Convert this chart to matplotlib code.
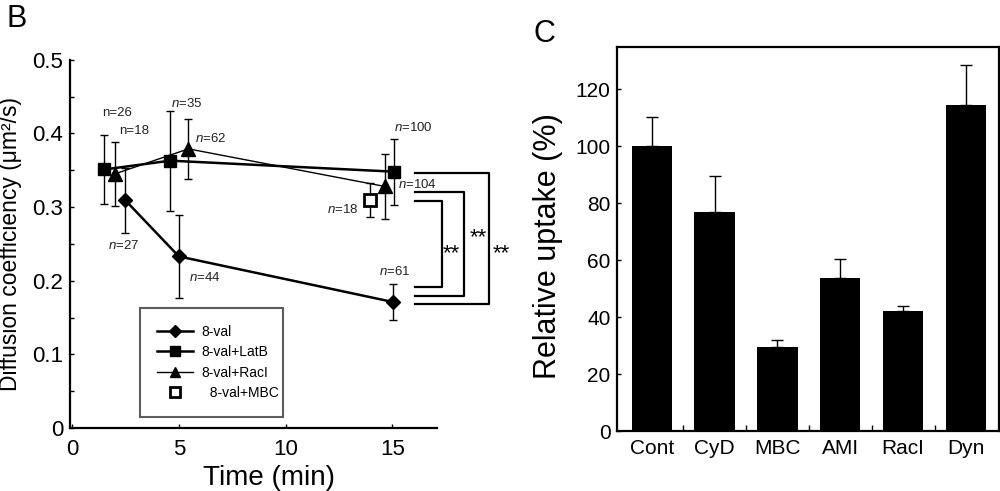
import numpy as np
import matplotlib.pyplot as plt

plt.rcParams['font.family'] = ['Liberation Sans', 'DejaVu Sans']
plt.rcParams['mathtext.fontset'] = 'custom'
plt.rcParams['mathtext.it'] = 'Liberation Sans:italic'
plt.rcParams['mathtext.rm'] = 'Liberation Sans'

# Panel B data: time (min), diffusion coefficient, error
val_t = [2.5, 5.0, 15.05]
val_d = [0.309, 0.233, 0.171]
val_err = [0.044, 0.056, 0.024]

latb_t = [1.5, 4.6, 15.1]
latb_d = [0.351, 0.363, 0.348]
latb_err = [0.047, 0.068, 0.045]

racl_t = [2.0, 5.45, 14.65]
racl_d = [0.345, 0.379, 0.328]
racl_err = [0.044, 0.041, 0.044]

mbc_t = [13.95]
mbc_d = [0.31]
mbc_err = [0.023]

# n labels: text, x, y
n_labels = [
    ("n=26", 2.1, 0.428),
    ("n=18", 2.9, 0.403),
    ("$n$=35", 5.35, 0.441),
    ("$n$=62", 6.5, 0.393),
    ("$n$=27", 2.4, 0.248),
    ("$n$=44", 6.2, 0.204),
    ("$n$=18", 12.7, 0.297),
    ("$n$=100", 16.0, 0.408),
    ("$n$=104", 16.2, 0.330),
    ("$n$=61", 15.1, 0.213),
]

# significance brackets: top y, bottom y, vertical x, star x, star y
brackets = [
    (0.308, 0.191, 17.32, 17.75, 0.247),
    (0.321, 0.179, 18.36, 19.05, 0.268),
    (0.346, 0.168, 19.53, 20.1, 0.247),
]
bracket_start = 16.07

# Panel C data
groups = ["Cont", "CyD", "MBC", "AMI", "RacI", "Dyn"]
uptake = [100, 76.8, 29.6, 53.6, 42.3, 114.5]
uptake_err = [10.3, 12.7, 2.3, 6.7, 1.6, 14.0]

fig = plt.figure(figsize=(10, 4.91), dpi=100)

# ---- Panel B ----
ax = fig.add_axes([0.07, 0.1283, 0.367, 0.75])
eb = dict(fmt='none', ecolor='black', elinewidth=1, capsize=3, capthick=1)
ax.errorbar(val_t, val_d, yerr=val_err, **eb)
ax.errorbar(latb_t, latb_d, yerr=latb_err, **eb)
ax.errorbar(racl_t, racl_d, yerr=racl_err, **eb)
ax.errorbar(mbc_t, mbc_d, yerr=mbc_err, **eb)
l1, = ax.plot(val_t, val_d, '-D', color='black', lw=1.8, ms=7, label='8-val')
l2, = ax.plot(latb_t, latb_d, '-s', color='black', lw=1.8, ms=9, label='8-val+LatB')
l3, = ax.plot(racl_t, racl_d, '-^', color='black', lw=1.0, ms=10, label='8-val+RacI')
l4, = ax.plot(mbc_t, mbc_d, 's', color='black', mfc='white', mew=2, ms=8.5,
              label='  8-val+MBC')

ax.set_xlim(-0.1, 17.1)
ax.set_ylim(0, 0.5)
ax.set_xticks([0, 5, 10, 15])
ax.set_yticks([0, 0.1, 0.2, 0.3, 0.4, 0.5])
ax.set_yticklabels(['0', '0.1', '0.2', '0.3', '0.4', '0.5'])
ax.set_yticks(np.arange(0.05, 0.5, 0.1), minor=True)
ax.tick_params(which='both', direction='in', length=3, width=1)
ax.tick_params(axis='y', labelsize=16, pad=5)
ax.tick_params(axis='x', labelsize=16, pad=8)
for s in ['top', 'right']:
    ax.spines[s].set_visible(False)
for s in ['left', 'bottom']:
    ax.spines[s].set_linewidth(1.6)

ax.set_xlabel('Time (min)', fontsize=20)
ax.xaxis.set_label_coords(0.542, -0.10)
ax.set_ylabel('Diffusion coefficiency (μm²/s)', fontsize=16.5)
ax.yaxis.set_label_coords(-0.131, 0.5)

for txt, x, y in n_labels:
    ax.text(x, y, txt, fontsize=9.5, ha='center', va='center', color='#222222')

for ytop, ybot, xv, sx, sy in brackets:
    ax.plot([bracket_start, xv, xv, bracket_start], [ytop, ytop, ybot, ybot],
            color='black', lw=1.6, clip_on=False)
    ax.text(sx, sy - 0.01, '**', fontsize=16, ha='center', va='center')

leg = ax.legend(handles=[l1, l2, l3, l4], loc='center',
                bbox_to_anchor=(0.19, 0.033, 0.39, 0.29), mode='expand',
                fontsize=10, frameon=True, fancybox=False, borderpad=1.25,
                labelspacing=0.45, handlelength=2.6, handletextpad=0.6,
                borderaxespad=0)
leg.get_frame().set_edgecolor('#333333')
leg.get_frame().set_linewidth(1.5)
for h in leg.legend_handles:
    h.set_markersize(6.5)

fig.text(0.017, 0.961, 'B', fontsize=22, ha='center', va='center')

# ---- Panel C ----
ax2 = fig.add_axes([0.6167, 0.122, 0.382, 0.783])
xpos = np.arange(len(groups))
ax2.bar(xpos, uptake, width=0.64, color='black')
ax2.errorbar(xpos, uptake, yerr=[np.zeros(len(uptake)), uptake_err],
             fmt='none', ecolor='black', elinewidth=1, capsize=4, capthick=1)
ax2.set_xlim(-0.556, 5.52)
ax2.set_ylim(0, 135)
ax2.set_yticks(np.arange(0, 121, 20))
ax2.set_xticks(xpos)
ax2.set_xticklabels(groups)
ax2.set_xticks(xpos[:-1] + 0.5, minor=True)
ax2.tick_params(axis='x', which='major', length=0, labelsize=15, pad=6)
ax2.tick_params(axis='x', which='minor', direction='in', length=4, width=1)
ax2.tick_params(axis='y', direction='in', length=3, width=1, labelsize=15, pad=4.5)
for s in ax2.spines.values():
    s.set_linewidth(1.6)
ax2.set_ylabel('Relative uptake (%)', fontsize=22)
ax2.yaxis.set_label_coords(-0.14, 0.48)

fig.text(0.544, 0.931, 'C', fontsize=22, ha='center', va='center')

fig.savefig('out.png', dpi=100)
